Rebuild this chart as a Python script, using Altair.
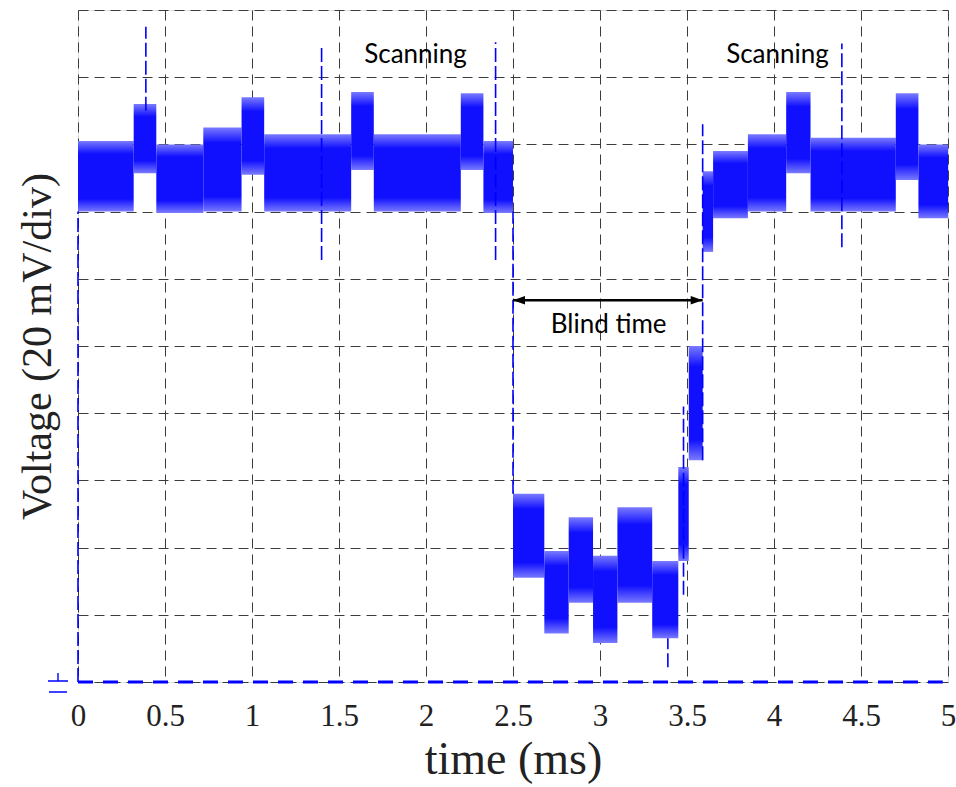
import altair as alt
import pandas as pd

# Oscilloscope trace, time in ms, voltage in divisions (20 mV/div) above ground
seg_start = [0.00, 0.32, 0.45, 0.72, 0.94, 1.07, 1.57, 1.70, 2.20, 2.33,
             2.50, 2.68, 2.82, 2.96, 3.10, 3.30, 3.45, 3.51,
             3.59, 3.65, 3.85, 4.07, 4.21, 4.70, 4.83]
seg_end = [0.32, 0.45, 0.72, 0.94, 1.07, 1.57, 1.70, 2.20, 2.33, 2.50,
           2.68, 2.82, 2.96, 3.10, 3.30, 3.45, 3.51, 3.59,
           3.65, 3.85, 4.07, 4.21, 4.70, 4.83, 5.00]
seg_low = [7.00, 7.57, 6.98, 7.00, 7.55, 7.00, 7.62, 7.00, 7.62, 6.98,
           1.55, 0.72, 1.18, 0.58, 1.18, 0.65, 1.80, 3.30,
           6.40, 6.90, 7.00, 7.57, 7.00, 7.47, 6.90]
seg_high = [8.05, 8.60, 8.00, 8.25, 8.70, 8.15, 8.78, 8.15, 8.76, 8.05,
            2.80, 1.95, 2.45, 1.88, 2.60, 1.80, 3.20, 5.00,
            7.60, 7.90, 8.15, 8.78, 8.10, 8.76, 8.00]

# Fast transitions and glitches, drawn as dashed vertical strokes
spike_t = [0.00, 0.39, 1.40, 2.40, 2.50, 3.39, 3.48, 3.59, 4.39]
spike_low = [0.00, 8.50, 6.28, 6.28, 2.80, 0.22, 1.30, 3.30, 6.47]
spike_high = [7.00, 9.75, 9.48, 9.52, 7.00, 0.65, 4.10, 8.30, 9.50]

# Ground reference trace
ground_t0 = [0.0]
ground_t1 = [4.97]
ground_v = [0.0]

# Annotations
note_text = ["Scanning", "Scanning", "Blind time"]
note_t = [1.94, 4.02, 3.05]
note_v = [9.33, 9.33, 5.31]
blind_t0 = [2.50]
blind_t1 = [3.59]
blind_v = [5.68]

x_ticks = [0, 0.5, 1, 1.5, 2, 2.5, 3, 3.5, 4, 4.5, 5]
y_ticks = [0, 1, 2, 3, 4, 5, 6, 7, 8, 9, 10]

BLUE = "#0000ff"
SERIF = "Liberation Serif"

segs = pd.DataFrame({"t0": seg_start, "t1": seg_end, "lo": seg_low, "hi": seg_high})
spikes = pd.DataFrame({"t": spike_t, "lo": spike_low, "hi": spike_high})
ground = pd.DataFrame({"t0": ground_t0, "t1": ground_t1, "v": ground_v})
notes = pd.DataFrame({"label": note_text, "t": note_t, "v": note_v})
arrow = pd.DataFrame({"t0": blind_t0, "t1": blind_t1, "v": blind_v})
heads = pd.DataFrame({"t": [blind_t0[0], blind_t1[0]], "v": [blind_v[0]] * 2, "side": ["l", "r"]})
gnd_mark = pd.DataFrame({"t": [0.0], "v": [0.0]})

x_scale = alt.Scale(domain=[0, 5], nice=False, zero=False)
y_scale = alt.Scale(domain=[0, 10], nice=False, zero=False)

grid_dash = [10, 6]
x_axis = alt.Axis(
    values=x_ticks, format="~g", title="time (ms)", grid=True, gridDash=grid_dash,
    gridColor="#3c3c3c", gridWidth=1, gridOpacity=1, domain=False, ticks=False,
    labelFont=SERIF, labelFontSize=31, labelColor="#222222", labelPadding=43,
    labelBaseline="alphabetic", labelFlush=False,
    titleFont=SERIF, titleFontSize=46, titleFontWeight="normal", titleColor="#222222",
    titleY=91, titleBaseline="alphabetic",
)
y_axis = alt.Axis(
    values=y_ticks, labels=False, title="Voltage (20 mV/div)", grid=True, gridDash=grid_dash,
    gridColor="#3c3c3c", gridWidth=1, gridOpacity=1, domain=False, ticks=False,
    titleFont=SERIF, titleFontSize=42, titleFontWeight="normal", titleColor="#222222",
    titleX=-28, titleBaseline="alphabetic",
)

# Noise band: dense in the middle, thinning toward the envelope edges
band_fill = alt.Gradient(
    gradient="linear", x1=0, x2=0, y1=0, y2=1,
    stops=[
        alt.GradientStop(offset=0.0, color="#7a7aff"),
        alt.GradientStop(offset=0.18, color="#1010ff"),
        alt.GradientStop(offset=0.82, color="#1010ff"),
        alt.GradientStop(offset=1.0, color="#7a7aff"),
    ],
)

band = alt.Chart(segs).mark_rect(color=band_fill, opacity=1).encode(
    x=alt.X("t0:Q", scale=x_scale, axis=x_axis),
    x2="t1:Q",
    y=alt.Y("lo:Q", scale=y_scale, axis=y_axis),
    y2="hi:Q",
)

spike_marks = alt.Chart(spikes).mark_rule(color=BLUE, strokeWidth=1.6, strokeDash=[14, 4]).encode(
    x="t:Q", y="lo:Q", y2="hi:Q"
)

ground_line = alt.Chart(ground).mark_rule(color=BLUE, strokeWidth=3, strokeDash=[15, 10]).encode(
    x="t0:Q", x2="t1:Q", y="v:Q"
)

ground_symbol = alt.Chart(gnd_mark).mark_point(
    shape="M0,-0.9 L0,-0.15 M-1,-0.1 L1,-0.1 M-0.9,1 L0.9,1",
    size=400, filled=False, color=BLUE, strokeWidth=1.4, opacity=1, xOffset=-20,
).encode(x="t:Q", y="v:Q")

arrow_line = alt.Chart(arrow).mark_rule(color="black", strokeWidth=2.5).encode(
    x="t0:Q", x2="t1:Q", y="v:Q"
)
arrow_heads = alt.Chart(heads).mark_point(filled=True, color="black", size=576, opacity=1).encode(
    x="t:Q", y="v:Q",
    shape=alt.Shape("side:N", scale=alt.Scale(
        domain=["l", "r"],
        range=["M0,0 L1,-0.36 L1,0.36 Z", "M0,0 L-1,-0.36 L-1,0.36 Z"]), legend=None),
)

labels = alt.Chart(notes).mark_text(
    font="Lato", fontSize=26, color="black", baseline="middle", align="center"
).encode(x="t:Q", y="v:Q", text="label:N")

chart = alt.layer(
    band, spike_marks, ground_line, ground_symbol, arrow_line, arrow_heads, labels
).properties(
    width=870, height=672,
    autosize=alt.AutoSizeParams(type="none"),
    padding={"left": 78, "top": 10, "right": 8, "bottom": 105},
).configure_view(stroke=None).configure(background="white")

chart.save("out.html", embed_options={"renderer": "svg", "actions": False})
